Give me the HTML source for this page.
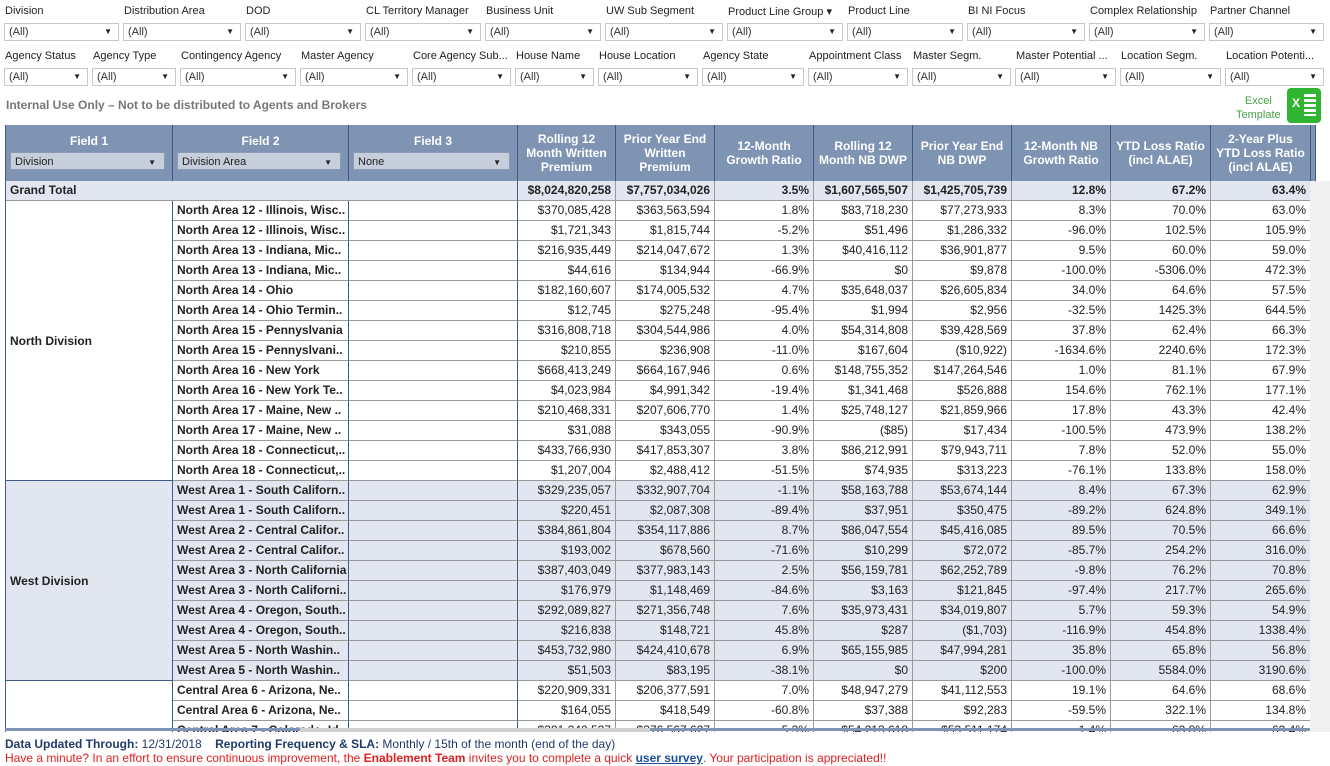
<!DOCTYPE html>
<html><head><meta charset="utf-8">
<style>
body{margin:0;width:1330px;height:766px;overflow:hidden;background:#fff;font-family:"Liberation Sans",Arial,sans-serif;position:relative}
.a{position:absolute;white-space:nowrap}
.lbl{font-size:11px;color:#222}
.box{height:18px;border:1px solid #c8c8c8;background:#fff;font-size:11px;color:#333;box-sizing:border-box;padding:2px 4px}
.box:after{content:"▼";position:absolute;right:6px;top:3px;font-size:8px;color:#222}
.hd{background:#7f93b2;color:#fff;font-weight:bold;font-size:12px;text-align:center;box-sizing:border-box;border-right:1px solid #3f5a86;display:flex;align-items:center;justify-content:center;line-height:14px}
.sel{background:#c6cedb;border:1px solid #8a9ab6;font-size:11px;color:#222;height:18px;box-sizing:border-box;padding:2px 4px}
.sel:after{content:"▼";position:absolute;right:8px;top:3px;font-size:8px;color:#222}
.c{font-size:12px;color:#222;box-sizing:border-box;height:20px;line-height:19px;border-bottom:1px solid #9a9a9a;border-right:1px solid #9a9a9a;padding:0 4px;text-align:right;overflow:hidden}
.f2{font-weight:bold;text-align:left;color:#222;border-right:1px solid #3f5a86}
</style></head><body>
<div id="filters"></div>
<div class="a" style="left:6px;top:98px;font-size:12px;font-weight:bold;color:#777">Internal Use Only – Not to be distributed to Agents and Brokers</div>
<div class="a" style="left:1236px;top:94px;font-size:11px;color:#4aa04a;text-align:center;line-height:14px">Excel<br>Template</div>
<div class="a" style="left:1287px;top:88px;width:34px;height:35px;background:#2fb52f;border-radius:4px"><div class="a" style="left:5px;top:8px;color:#fff;font-weight:bold;font-size:12px">X</div><div class="a" style="left:17px;top:6px;width:12px;height:22px;background:repeating-linear-gradient(#fff 0 3px,#2fb52f 3px 5px)"></div></div>
<div id="tbl" class="a" style="left:5px;top:125px;width:1325px;height:607px;overflow:hidden;border-left:1px solid #3f5a86"></div>
<div class="a" style="left:1310px;top:181px;width:20px;height:551px;background:#f0f0f0"></div>
<div class="a" style="left:5px;top:728px;width:1305px;height:3px;background:#7f93b2"></div>
<div class="a" style="left:300px;top:728px;width:350px;height:4px;background:#d0d0d0"></div>
<div class="a" style="left:5px;top:737px;font-size:12px;color:#1f3a6b"><b>Data Updated Through:</b> 12/31/2018 &nbsp;&nbsp;&nbsp;<b>Reporting Frequency &amp; SLA:</b> Monthly / 15th of the month (end of the day)</div>
<div class="a" style="left:5px;top:751px;font-size:12px;color:#e02020">Have a minute? In an effort to ensure continuous improvement, the <b>Enablement Team</b> invites you to complete a quick <a style="color:#1a4fa0;font-weight:bold;text-decoration:underline">user survey</a>. Your participation is appreciated!!</div>
<script>
const f1L=["Division","Distribution Area","DOD","CL Territory Manager","Business Unit","UW Sub Segment","Product Line Group","Product Line","BI NI Focus","Complex Relationship","Partner Channel"];
const f1X=[4,123,245,365,485,605,727,847,967,1089,1209];
const f2L=["Agency Status","Agency Type","Contingency Agency","Master Agency","Core Agency Sub...","House Name","House Location","Agency State","Appointment Class","Master Segm.","Master Potential ...","Location Segm.","Location Potenti..."];
const f2X=[4,92,180,300,412,515,598,702,808,912,1015,1120,1225];
const F=document.getElementById('filters');
function mk(labels,xs,ly,by){labels.forEach((t,i)=>{const w=(i<xs.length-1?xs[i+1]:1328)-xs[i]-4;
const l=document.createElement('div');l.className='a lbl';l.style.left=(xs[i]+1)+'px';l.style.top=ly+'px';l.textContent=t+(t==="Product Line Group"?" ▾":"");

F.appendChild(l);
const b=document.createElement('div');b.className='a box';b.style.left=xs[i]+'px';b.style.top=by+'px';b.style.width=w+'px';b.textContent='(All)';

F.appendChild(b);});}
mk(f1L,f1X,5,23);mk(f2L,f2X,50,68);

const colX=[0,167,343,512,610,709,808,907,1006,1105,1205,1305];
const heads=["Rolling 12<br>Month Written<br>Premium","Prior Year End<br>Written<br>Premium","12-Month<br>Growth Ratio","Rolling 12<br>Month NB DWP","Prior Year End<br>NB DWP","12-Month NB<br>Growth Ratio","YTD Loss Ratio<br>(incl ALAE)","2-Year Plus<br>YTD Loss Ratio<br>(incl ALAE)"];
const grand=["$8,024,820,258","$7,757,034,026","3.5%","$1,607,565,507","$1,425,705,739","12.8%","67.2%","63.4%"];
const areas=["North Area 12 - Illinois, Wisc..","North Area 12 - Illinois, Wisc..","North Area 13 - Indiana, Mic..","North Area 13 - Indiana, Mic..","North Area 14 - Ohio","North Area 14 - Ohio Termin..","North Area 15 - Pennyslvania","North Area 15 - Pennyslvani..","North Area 16 - New York","North Area 16 - New York Te..","North Area 17 - Maine, New ..","North Area 17 - Maine, New ..","North Area 18 - Connecticut,..","North Area 18 - Connecticut,..","West Area 1 - South Californ..","West Area 1 - South Californ..","West Area 2 - Central Califor..","West Area 2 - Central Califor..","West Area 3 - North California","West Area 3 - North Californi..","West Area 4 - Oregon, South..","West Area 4 - Oregon, South..","West Area 5 - North Washin..","West Area 5 - North Washin..","Central Area 6 - Arizona, Ne..","Central Area 6 - Arizona, Ne..","Central Area 7 - Colorado, Id.."];
const wp=["$370,085,428","$1,721,343","$216,935,449","$44,616","$182,160,607","$12,745","$316,808,718","$210,855","$668,413,249","$4,023,984","$210,468,331","$31,088","$433,766,930","$1,207,004","$329,235,057","$220,451","$384,861,804","$193,002","$387,403,049","$176,979","$292,089,827","$216,838","$453,732,980","$51,503","$220,909,331","$164,055","$391,240,527"];
const pywp=["$363,563,594","$1,815,744","$214,047,672","$134,944","$174,005,532","$275,248","$304,544,986","$236,908","$664,167,946","$4,991,342","$207,606,770","$343,055","$417,853,307","$2,488,412","$332,907,704","$2,087,308","$354,117,886","$678,560","$377,983,143","$1,148,469","$271,356,748","$148,721","$424,410,678","$83,195","$206,377,591","$418,549","$376,567,627"];
const gr=["1.8%","-5.2%","1.3%","-66.9%","4.7%","-95.4%","4.0%","-11.0%","0.6%","-19.4%","1.4%","-90.9%","3.8%","-51.5%","-1.1%","-89.4%","8.7%","-71.6%","2.5%","-84.6%","7.6%","45.8%","6.9%","-38.1%","7.0%","-60.8%","5.3%"];
const nb=["$83,718,230","$51,496","$40,416,112","$0","$35,648,037","$1,994","$54,314,808","$167,604","$148,755,352","$1,341,468","$25,748,127","($85)","$86,212,991","$74,935","$58,163,788","$37,951","$86,047,554","$10,299","$56,159,781","$3,163","$35,973,431","$287","$65,155,985","$0","$48,947,279","$37,388","$54,213,618"];
const pynb=["$77,273,933","$1,286,332","$36,901,877","$9,878","$26,605,834","$2,956","$39,428,569","($10,922)","$147,264,546","$526,888","$21,859,966","$17,434","$79,943,711","$313,223","$53,674,144","$350,475","$45,416,085","$72,072","$62,252,789","$121,845","$34,019,807","($1,703)","$47,994,281","$200","$41,112,553","$92,283","$53,511,174"];
const nbgr=["8.3%","-96.0%","9.5%","-100.0%","34.0%","-32.5%","37.8%","-1634.6%","1.0%","154.6%","17.8%","-100.5%","7.8%","-76.1%","8.4%","-89.2%","89.5%","-85.7%","-9.8%","-97.4%","5.7%","-116.9%","35.8%","-100.0%","19.1%","-59.5%","1.4%"];
const ytd=["70.0%","102.5%","60.0%","-5306.0%","64.6%","1425.3%","62.4%","2240.6%","81.1%","762.1%","43.3%","473.9%","52.0%","133.8%","67.3%","624.8%","70.5%","254.2%","76.2%","217.7%","59.3%","454.8%","65.8%","5584.0%","64.6%","322.1%","63.8%"];
const y2=["63.0%","105.9%","59.0%","472.3%","57.5%","644.5%","66.3%","172.3%","67.9%","177.1%","42.4%","138.2%","55.0%","158.0%","62.9%","349.1%","66.6%","316.0%","70.8%","265.6%","54.9%","1338.4%","56.8%","3190.6%","68.6%","134.8%","63.4%"];
const divisions=["North Division","West Division",""];
const divCounts=[14,10,3];
const T=document.getElementById('tbl');
function cell(x,y,w,h,cls,html,bg,name,inter){const d=document.createElement('div');d.className='a '+cls;d.style.left=x+'px';d.style.top=y+'px';d.style.width=w+'px';d.style.height=h+'px';if(bg)d.style.background=bg;d.innerHTML=html;

T.appendChild(d);return d;}
// header
["Field 1","Field 2","Field 3"].forEach((t,i)=>{const h=cell(colX[i],0,colX[i+1]-colX[i],56,'hd','',null,'field-header',false);h.style.display='block';
const s=document.createElement('div');s.className='a';s.style.left='0';s.style.top='9px';s.style.width='100%';s.style.textAlign='center';s.textContent=t;h.appendChild(s);
const sl=document.createElement('div');sl.className='a sel';sl.style.left='4px';sl.style.top='27px';sl.style.width=(colX[i+1]-colX[i]-12)+'px';sl.style.textAlign='left';sl.style.fontWeight='normal';sl.textContent=["Division","Division Area","None"][i];

h.appendChild(sl);});
heads.forEach((t,i)=>cell(colX[i+3],0,colX[i+4]-colX[i+3],56,'hd',t,null,'column-header',true));
cell(colX[11],0,5,56,'hd','',null,'header-filler',false);
// grand total
cell(0,56,colX[3],20,'c','<b style="float:left">Grand Total</b>','#e2e6f0','grand-total-label',false).style.borderRight='1px solid #3f5a86';
grand.forEach((v,i)=>cell(colX[i+3],56,colX[i+4]-colX[i+3],20,'c','<b>'+v+'</b>','#e2e6f0','grand-total-value',false));
cell(colX[11],56,5,20,'c','','#e2e6f0','filler',false);
// body
const cols=[wp,pywp,gr,nb,pynb,nbgr,ytd,y2];
let r=0,y=76;
divisions.forEach((dv,di)=>{const bg=di%2?'#e2e6f0':'#fff';const h=divCounts[di]*20;
const d=cell(0,y,colX[1],h,'c','',bg,'division-cell',false);d.style.textAlign='left';d.style.borderBottom='1px solid #3f5a86';d.style.borderRight='1px solid #3f5a86';d.style.lineHeight=h+'px';d.innerHTML='<b>'+dv+'</b>';
for(let k=0;k<divCounts[di];k++){const yy=y+k*20;
cell(colX[1],yy,colX[2]-colX[1],20,'c f2',areas[r],bg,'area-cell',false);
cell(colX[2],yy,colX[3]-colX[2],20,'c f2','',bg,'field3-cell',false);
cols.forEach((a,ci)=>cell(colX[ci+3],yy,colX[ci+4]-colX[ci+3],20,'c',a[r],bg,'value-cell',false));
cell(colX[11],yy,5,20,'c','',bg,'filler',false);
r++;}
y+=h;});
</script>
</body></html>
